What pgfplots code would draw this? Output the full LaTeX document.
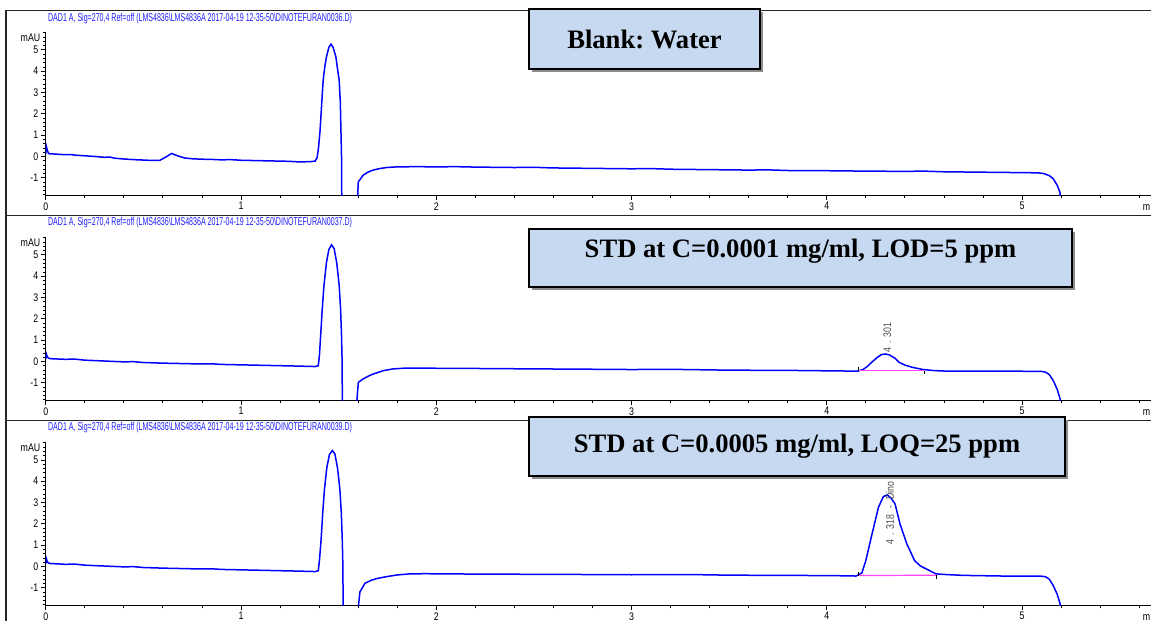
\documentclass[border=0pt]{standalone}
\usepackage{fontspec}
\usepackage{graphicx}
\usepackage{pgfplots}
\pgfplotsset{compat=1.18}
\setmainfont{Liberation Serif}
\newfontfamily\narrow[FakeStretch=0.8]{Liberation Sans}
\newfontfamily\hdrfont{Liberation Sans}
\frenchspacing

\definecolor{trblue}{RGB}{0,0,255}
\definecolor{hdrblue}{RGB}{30,30,255}
\definecolor{intline}{RGB}{255,70,255}
\definecolor{boxfill}{RGB}{198,217,240}

% one chromatogram panel; 1 px of the reference = 0.5pt
\pgfplotsset{
  chrom/.style={
    scale only axis, anchor=south west,
    width=556.5pt, height=81.5pt,
    xmin=0, xmax=5.7, ymin=-1.81, ymax=5.84,
    axis x line*=bottom, axis y line*=left,
    axis line style={-, black, line width=0.5pt},
    xtick={0,...,5}, ytick={-1,...,5},
    minor xtick={0.2,0.4,...,5.6}, minor ytick={-1.8,-1.6,...,5.8},
    tick align=outside,
    major tick length=2.5pt, minor tick length=1.6pt,
    tick style={black, line width=0.4pt},
    ticklabel style={font=\narrow\fontsize{5.5}{6}\selectfont, inner sep=1pt},
    /pgf/number format/assume math mode=true,
  },
  sig/.style={trblue, line width=0.75pt},
  base/.style={intline, line width=0.6pt},
}

\begin{document}
\begin{tikzpicture}
\useasboundingbox (0,0) rectangle (575.5pt,-310.5pt);

% ---- panel 1: blank
\begin{axis}[chrom, at={(22.85pt,-97.5pt)}]
\addplot[sig] coordinates {
(0,0.1)(0.004,0.45)(0.008,0.3)(0.015,0.13)(0.05,0.11)(0.1,0.08)(0.13,0.09)(0.15,0.06)
(0.2,0.03)(0.25,0.0)(0.3,-0.04)(0.33,-0.03)(0.35,-0.08)(0.4,-0.12)(0.45,-0.15)(0.5,-0.17)
(0.55,-0.19)(0.585,-0.18)(0.615,-0.03)(0.645,0.14)(0.675,0.03)(0.71,-0.07)(0.75,-0.11)
(0.8,-0.13)(0.85,-0.14)(0.9,-0.16)(0.95,-0.15)(1.0,-0.18)(1.05,-0.19)(1.1,-0.2)(1.15,-0.21)
(1.2,-0.22)(1.25,-0.23)(1.3,-0.26)(1.33,-0.25)(1.36,-0.24)(1.38,-0.22)(1.39,-0.05)
(1.397,0.4)(1.405,1.2)(1.413,2.4)(1.421,3.58)(1.43,4.25)(1.438,4.68)(1.45,5.12)(1.461,5.27)
(1.472,5.12)(1.486,4.68)(1.497,3.95)(1.503,3.58)(1.509,2.5)(1.512,1.23)(1.515,0)(1.517,-3)
(1.592,-3)(1.601,-1.19)(1.626,-0.88)(1.65,-0.74)(1.677,-0.64)(1.71,-0.57)(1.746,-0.52)
(1.8,-0.49)(1.9,-0.48)(2.0,-0.49)(2.1,-0.48)(2.2,-0.5)(2.4,-0.52)(2.5,-0.51)(2.6,-0.54)
(2.8,-0.56)(3.0,-0.58)(3.1,-0.57)(3.2,-0.6)(3.4,-0.62)(3.6,-0.64)(3.7,-0.63)(3.8,-0.66)
(4.0,-0.67)(4.2,-0.69)(4.4,-0.7)(4.5,-0.69)(4.6,-0.72)(4.8,-0.74)(5.0,-0.76)(5.08,-0.77)
(5.11,-0.8)(5.14,-0.9)(5.16,-1.05)(5.18,-1.35)(5.195,-1.7)(5.2,-3)
};
\end{axis}

% ---- panel 2: LOD standard
\begin{axis}[chrom, at={(22.85pt,-200pt)}]
\addplot[sig] coordinates {
(0,0.12)(0.004,0.33)(0.009,0.2)(0.02,0.13)(0.1,0.1)(0.15,0.11)(0.2,0.06)(0.3,0.02)
(0.4,-0.02)(0.45,-0.01)(0.5,-0.05)(0.6,-0.08)(0.7,-0.1)(0.8,-0.12)(0.85,-0.11)(0.9,-0.14)
(1.0,-0.16)(1.1,-0.18)(1.2,-0.2)(1.3,-0.22)(1.38,-0.24)(1.396,-0.2)(1.402,0.3)(1.408,1.21)
(1.416,2.4)(1.425,3.56)(1.438,4.65)(1.45,5.25)(1.464,5.47)(1.477,5.3)(1.49,4.65)(1.497,4.1)
(1.503,3.56)(1.51,2.5)(1.515,1.21)(1.518,0)(1.52,-3)(1.584,-3)(1.601,-0.98)(1.626,-0.82)
(1.65,-0.7)(1.677,-0.59)(1.73,-0.43)(1.78,-0.35)(1.83,-0.32)(1.9,-0.31)(2.0,-0.32)
(2.2,-0.33)(2.5,-0.35)(2.7,-0.36)(3.0,-0.38)(3.2,-0.37)(3.5,-0.41)(3.8,-0.42)(4.0,-0.44)
(4.1,-0.45)(4.16,-0.45)(4.186,-0.38)(4.21,-0.22)(4.23,-0.04)(4.26,0.2)(4.28,0.32)(4.30,0.35)
(4.32,0.31)(4.35,0.15)(4.37,-0.04)(4.40,-0.17)(4.44,-0.28)(4.494,-0.38)(4.55,-0.43)
(4.6,-0.45)(4.8,-0.46)(5.0,-0.46)(5.1,-0.47)(5.12,-0.5)(5.14,-0.62)(5.16,-0.9)(5.18,-1.3)
(5.195,-1.75)(5.2,-3)
};
\addplot[base] coordinates {(4.16,-0.43)(4.50,-0.43)};
\addplot[black, line width=0.4pt] coordinates {(4.16,-0.43)(4.16,-0.25)};
\addplot[black, line width=0.4pt] coordinates {(4.50,-0.43)(4.50,-0.6)};
\node[rotate=90, text=black!70, font=\narrow\fontsize{5.5}{6}\selectfont, inner sep=0]
  at (axis cs:4.31,1.13) {4\,\,.\,\,301};
\end{axis}

% ---- panel 3: LOQ standard
\begin{axis}[chrom, at={(22.85pt,-302.5pt)}]
\addplot[sig] coordinates {
(0,0.12)(0.004,0.35)(0.009,0.2)(0.02,0.14)(0.1,0.1)(0.15,0.11)(0.2,0.06)(0.3,0.02)
(0.4,-0.02)(0.45,-0.01)(0.5,-0.05)(0.6,-0.08)(0.7,-0.1)(0.8,-0.12)(0.85,-0.11)(0.9,-0.14)
(1.0,-0.16)(1.1,-0.18)(1.2,-0.2)(1.3,-0.22)(1.38,-0.24)(1.396,-0.2)(1.402,0.3)(1.41,1.2)
(1.418,2.4)(1.427,3.56)(1.44,4.65)(1.453,5.25)(1.468,5.44)(1.481,5.28)(1.494,4.65)
(1.501,4.1)(1.507,3.56)(1.514,2.5)(1.519,1.2)(1.522,0)(1.524,-3)(1.589,-3)(1.609,-1.2)
(1.635,-0.79)(1.67,-0.64)(1.70,-0.56)(1.745,-0.48)(1.8,-0.4)(1.865,-0.35)(1.95,-0.34)
(2.0,-0.35)(2.3,-0.36)(2.5,-0.37)(2.8,-0.38)(3.0,-0.39)(3.3,-0.38)(3.5,-0.41)(3.8,-0.42)
(4.0,-0.43)(4.1,-0.44)(4.15,-0.45)(4.18,-0.3)(4.20,0.27)(4.23,1.45)(4.265,2.78)(4.29,3.28)
(4.31,3.36)(4.33,3.2)(4.35,2.93)(4.375,2.0)(4.41,1.06)(4.45,0.27)(4.48,0.02)(4.51,-0.12)
(4.56,-0.35)(4.61,-0.38)(4.7,-0.42)(4.9,-0.45)(5.1,-0.46)(5.12,-0.48)(5.14,-0.6)
(5.16,-0.9)(5.18,-1.3)(5.195,-1.75)(5.2,-3)
};
\addplot[base] coordinates {(4.16,-0.43)(4.56,-0.41)};
\addplot[black, line width=0.4pt] coordinates {(4.16,-0.43)(4.16,-0.25)};
\addplot[black, line width=0.4pt] coordinates {(4.56,-0.41)(4.56,-0.58)};
\node[rotate=90, text=black!70, font=\narrow\fontsize{5.5}{6}\selectfont, inner sep=0]
  at (axis cs:4.323,2.51) {4\,\,.\,\,318\;\;-\;\;Dino};
\end{axis}

% ---- frame, headers and caption boxes (pixel coordinates)
\begin{scope}[x=0.5pt, y=-0.5pt]
\draw[black!85, line width=0.6pt] (6,622) -- (6,10.7) -- (1152,10.7);
\draw[black!85, line width=0.6pt] (6,215.3) -- (1152,215.3);
\draw[black!85, line width=0.6pt] (6,420.5) -- (1152,420.5);
\foreach \yy/\ff in {18.3/0036, 222.5/0037, 427.5/0039} {
  \node[anchor=west, text=hdrblue, inner sep=0, font=\hdrfont\fontsize{5.7}{6}\selectfont]
    at (47.7,\yy) {\resizebox{152pt}{\height}{DAD1 A, Sig=270,4 Ref=off (LMS4836\textbackslash LMS4836A 2017-04-19 12-35-50\textbackslash DINOTEFURAN\ff.D)}};
}
\foreach \yy in {38, 243, 448} {
  \node[font=\narrow\fontsize{5.5}{6}\selectfont, inner sep=0] at (30.5,\yy) {mAU};
}
\foreach \yy in {208, 413, 618} {
  \node[anchor=east, font=\narrow\fontsize{5.5}{6}\selectfont, inner sep=0] at (1150.5,\yy) {m};
}
% caption boxes
\fill[black!45] (531.5,11.5) rectangle (762.5,71.5);
\filldraw[fill=boxfill, draw=black, line width=1.1pt] (529,9) rectangle (760,69);
\node[font=\bfseries\fontsize{13.3}{16}\selectfont] at (644.5,39) {Blank: Water};
\fill[black!45] (531.5,231.5) rectangle (1074.5,289.5);
\filldraw[fill=boxfill, draw=black, line width=1.1pt] (529,229) rectangle (1072,287);
\node[font=\bfseries\fontsize{13.3}{16}\selectfont] at (800.5,251) {STD at C=0.0001 mg/ml, LOD=5 ppm};
\fill[black!45] (531.5,419.5) rectangle (1067.5,478.5);
\filldraw[fill=boxfill, draw=black, line width=1.1pt] (529,417) rectangle (1065,476);
\node[font=\bfseries\fontsize{13.3}{16}\selectfont] at (797,446) {STD at C=0.0005 mg/ml, LOQ=25 ppm};
\end{scope}
\end{tikzpicture}
\end{document}
